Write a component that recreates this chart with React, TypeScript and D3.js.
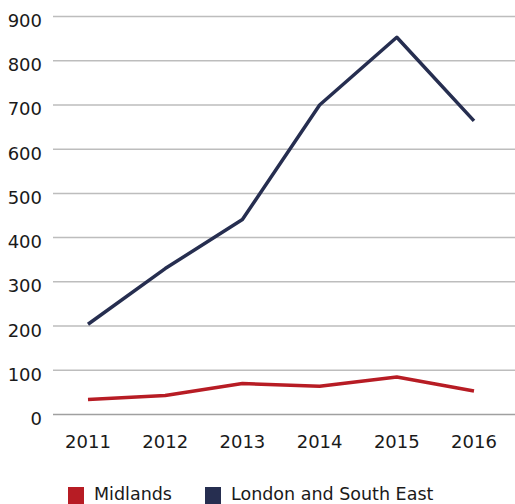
import React from "react";
import * as d3 from "d3";

const years = ["2011", "2012", "2013", "2014", "2015", "2016"];
const midlands = [34, 43, 70, 64, 85, 53];
const london = [204, 330, 441, 700, 853, 664];
const yTicks = [0, 100, 200, 300, 400, 500, 600, 700, 800, 900];
const seriesNames = ["Midlands", "London and South East"];
const seriesColors = ["#b71c24", "#262e50"];

export default function App() {
  const W = 515, H = 504;
  const x = d3.scalePoint<string>().domain(years).range([88, 474]);
  const y = d3.scaleLinear().domain([0, 900]).range([414.5, 16.5]);
  const line = d3
    .line<number>()
    .x((_, i) => x(years[i]) as number)
    .y((d) => y(d));
  const font = "'DejaVu Sans', sans-serif";
  return (
    <svg width={W} height={H} style={{ position: "absolute", left: 0, top: 0 }} fontFamily={font}>
      {yTicks.map((t) => (
        <g key={t}>
          <line x1={53} x2={515} y1={y(t)} y2={y(t)} stroke={t === 0 ? "#a0a0a0" : "#bdbdbd"} strokeWidth={1.5} />
          <text x={42} y={y(t) + 10.5} textAnchor="end" fontSize={18} fill="#1a1a1a">
            {t}
          </text>
        </g>
      ))}
      {years.map((yr) => (
        <text key={yr} x={x(yr)} y={448} textAnchor="middle" fontSize={18} fill="#1a1a1a">
          {yr}
        </text>
      ))}
      <path d={line(london) || ""} fill="none" stroke={seriesColors[1]} strokeWidth={3.5} strokeLinejoin="round" />
      <path d={line(midlands) || ""} fill="none" stroke={seriesColors[0]} strokeWidth={3.5} strokeLinejoin="round" />
      {seriesNames.map((n, i) => {
        const lx = i === 0 ? 68 : 205;
        return (
          <g key={n}>
            <rect x={lx} y={487} width={16} height={17} fill={seriesColors[i]} />
            <text x={lx + 26} y={500} fontSize={17.5} fill="#1a1a1a">
              {n}
            </text>
          </g>
        );
      })}
    </svg>
  );
}
